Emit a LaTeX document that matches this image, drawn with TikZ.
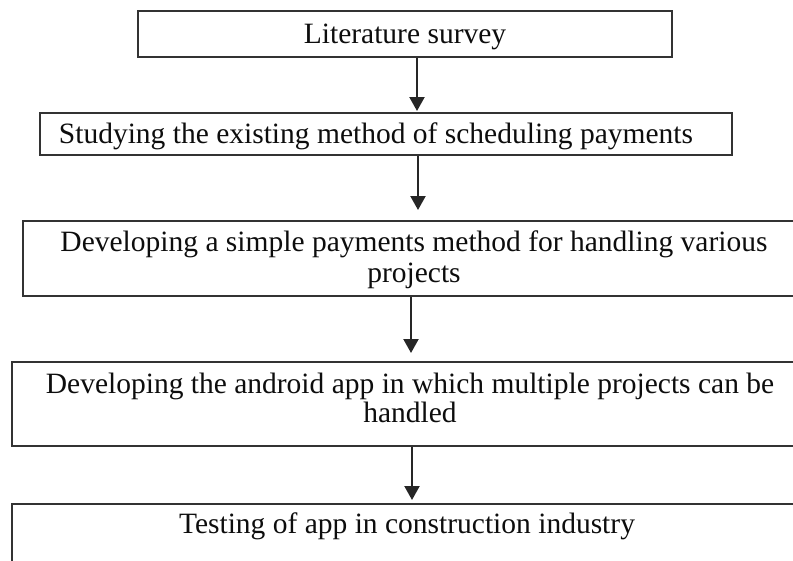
\documentclass[tikz,border=0pt]{standalone}
\usepackage{fontspec}
\setmainfont{Liberation Serif}
\usetikzlibrary{arrows.meta}
\tikzset{
  stepbox/.style={draw=black!80, line width=1.6pt, inner sep=0pt, minimum width=#1, fill=none},
  steptext/.style={anchor=base, inner sep=0pt, text=black!95, font=\fontsize{29.5pt}{30pt}\selectfont},
  arr/.style={draw=black!85, line width=2.2pt, -{Triangle[width=15pt,length=14pt]}}
}
\begin{document}
\begin{tikzpicture}[x=1pt,y=-1pt]
\useasboundingbox (0,0) rectangle (793,560);
\clip (0,0) rectangle (793,560);
% boxes
\node[stepbox=534pt, minimum height=46pt] (b1) at (405,34) {};
\node[stepbox=692pt, minimum height=42pt] (b2) at (386,134) {};
\node[stepbox=782pt, minimum height=75pt] (b3) at (414,258.5) {};
\node[stepbox=796pt, minimum height=84pt] (b4) at (410,404) {};
\node[stepbox=790pt, minimum height=96pt] (b5) at (407,552) {};
% texts
\node[steptext] (t1) at (405,43) {Literature survey};
\node[steptext] (t2) at (376,143) {Studying the existing method of scheduling payments};
\node[steptext] (t3a) at (414,251) {Developing a simple payments method for handling various};
\node[steptext] (t3b) at (414,282) {projects};
\node[steptext] (t4a) at (410,393) {Developing the android app in which multiple projects can be};
\node[steptext] (t4b) at (410,422) {handled};
\node[steptext] (t5) at (407,533) {Testing of app in construction industry};
% arrows
\coordinate (e1) at (417,111);
\coordinate (e2) at (418,210);
\coordinate (e3) at (411,353);
\coordinate (e4) at (412,500);
\draw[arr] (b1.south -| e1) -- (e1);
\draw[arr] (b2.south -| e2) -- (e2);
\draw[arr] (b3.south -| e3) -- (e3);
\draw[arr] (b4.south -| e4) -- (e4);
\end{tikzpicture}
\end{document}
